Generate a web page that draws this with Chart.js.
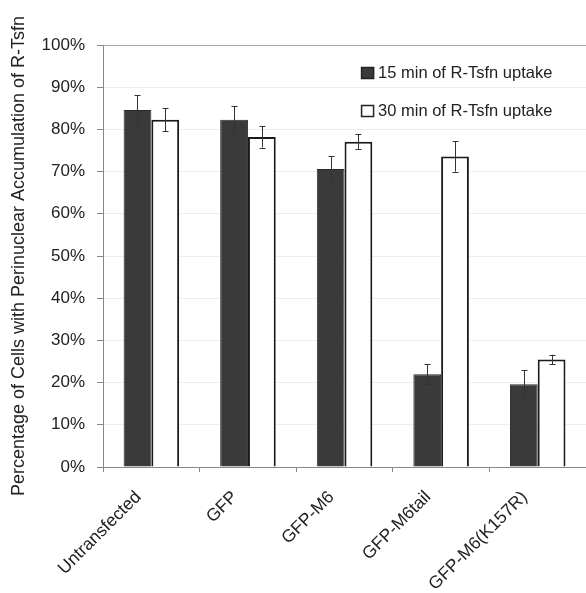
<!DOCTYPE html>
<html>
<head>
<meta charset="utf-8">
<script src="https://cdn.jsdelivr.net/npm/chart.js@4/dist/chart.umd.min.js"></script>
<style>
  html, body { margin: 0; padding: 0; background: #fff; }
  #wrap { width: 586px; height: 593px; position: relative; }
</style>
</head>
<body>
<div id="wrap"><canvas id="myChart"></canvas></div>
<script>
// values (percent)
const categories = ["Untransfected", "GFP", "GFP-M6", "GFP-M6tail", "GFP-M6(K157R)"];
const min15 = [84.6, 82.3, 70.6, 22.0, 19.6];
const min15Err = [3.5, 3.3, 3.0, 2.3, 3.3];
const min30 = [82.3, 78.2, 77.1, 73.6, 25.5];
const min30Err = [2.7, 2.5, 1.7, 3.6, 1.1];
const yTicks = [0, 10, 20, 30, 40, 50, 60, 70, 80, 90, 100];

const FONT = "'Liberation Sans', Arial, sans-serif";

// error bars drawn from the bar elements and the y scale
const errorBars = {
  id: "errorBars",
  afterDatasetsDraw(chart) {
    const ctx = chart.ctx;
    const yScale = chart.scales.y;
    ctx.save();
    ctx.strokeStyle = "#333";
    ctx.lineWidth = 1;
    chart.data.datasets.forEach((ds, di) => {
      const meta = chart.getDatasetMeta(di);
      meta.data.forEach((bar, i) => {
        const v = ds.data[i], e = ds.errors[i];
        const x = Math.round(bar.x) + 0.5;
        const yTop = yScale.getPixelForValue(v + e);
        const yBot = yScale.getPixelForValue(v - e);
        ctx.beginPath();
        ctx.moveTo(x, yTop); ctx.lineTo(x, yBot);
        ctx.moveTo(x - 3, Math.round(yTop) + 0.5); ctx.lineTo(x + 3, Math.round(yTop) + 0.5);
        ctx.moveTo(x - 3, Math.round(yBot) + 0.5); ctx.lineTo(x + 3, Math.round(yBot) + 0.5);
        ctx.stroke();
      });
    });
    ctx.restore();
  }
};

// legend drawn inside the plot area, upper right
const insideLegend = {
  id: "insideLegend",
  afterDraw(chart) {
    const ctx = chart.ctx;
    const area = chart.chartArea;
    const x0 = area.left + 258;
    const rows = [area.top + 22, area.top + 60];
    ctx.save();
    ctx.font = "16.5px " + FONT;
    ctx.textBaseline = "middle";
    chart.data.datasets.forEach((ds, i) => {
      const y = rows[i];
      ctx.fillStyle = ds.backgroundColor;
      ctx.fillRect(x0, y, 13, 12);
      ctx.strokeStyle = "#222";
      ctx.lineWidth = 1.5;
      ctx.strokeRect(x0 + 0.5, y + 0.5, 12, 11);
      ctx.fillStyle = "#222";
      ctx.fillText(ds.label, x0 + 17, y + 6.5);
    });
    ctx.restore();
  }
};

new Chart(document.getElementById("myChart"), {
  type: "bar",
  data: {
    labels: categories,
    datasets: [
      {
        label: "15 min of R-Tsfn uptake",
        data: min15,
        errors: min15Err,
        backgroundColor: "#3a3a3a",
        borderColor: "#2a2a2a",
        borderWidth: 1,
        categoryPercentage: 0.575,
        barPercentage: 1.0
      },
      {
        label: "30 min of R-Tsfn uptake",
        data: min30,
        errors: min30Err,
        backgroundColor: "#ffffff",
        borderColor: "#1a1a1a",
        borderWidth: 2,
        categoryPercentage: 0.575,
        barPercentage: 1.0
      }
    ]
  },
  options: {
    responsive: true,
    maintainAspectRatio: false,
    animation: false,
    layout: { padding: { left: 6, top: 45, right: 0, bottom: 0 } },
    plugins: {
      legend: { display: false },
      tooltip: { enabled: false }
    },
    scales: {
      x: {
        offset: true,
        afterFit: scale => {
          scale.height = 126;
          scale.paddingLeft = 0;
          scale.paddingRight = 0;
        },
        grid: {
          offset: true,
          drawOnChartArea: false,
          color: "#888",
          tickLength: 5
        },
        border: { color: "#888", width: 1 },
        ticks: {
          color: "#222",
          font: { family: FONT, size: 17.5 },
          maxRotation: 45,
          minRotation: 45,
          padding: 15,
          labelOffset: -13,
          autoSkip: false
        }
      },
      y: {
        min: 0,
        max: 100,
        afterBuildTicks: axis => {
          axis.ticks = yTicks.map(v => ({ value: v }));
        },
        grid: {
          color: ctx => (ctx.tick && ctx.tick.value === 100) ? "#a8a8a8" : "#eeeeee",
          tickColor: "#888",
          tickLength: 6
        },
        border: { color: "#888", width: 1 },
        ticks: {
          color: "#222",
          font: { family: FONT, size: 17 },
          padding: 12,
          callback: v => v + "%"
        },
        title: {
          display: true,
          text: "Percentage of Cells with Perinuclear Accumulation of R-Tsfn",
          color: "#222",
          font: { family: FONT, size: 18 },
          padding: { top: 2, bottom: 0 }
        }
      }
    }
  },
  plugins: [errorBars, insideLegend]
});
</script>
</body>
</html>
